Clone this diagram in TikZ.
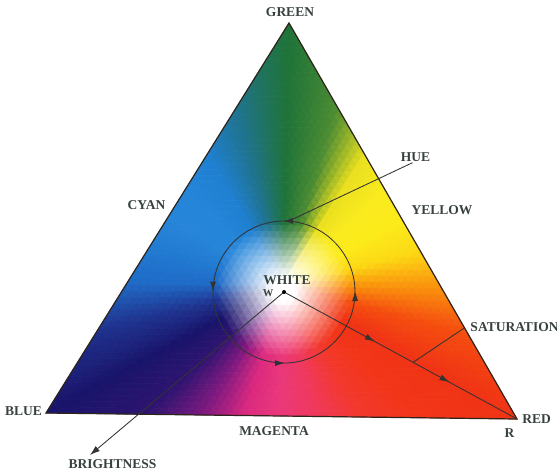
\documentclass[tikz,border=0pt]{standalone}
\usepackage{fontspec}
\setmainfont{Liberation Serif}
\usetikzlibrary{arrows.meta,decorations.markings,calc}
\definecolor{txt}{rgb}{0.22,0.26,0.24}
\definecolor{edgecol}{rgb}{0.18,0.14,0.10}
\definecolor{conn}{rgb}{0.2,0.2,0.2}
\def\palR{{0.94,0.96,0.98,0.99,0.99,0.98,0.92,0.30,0.12,0.12,0.12,0.14,0.15,0.13,0.12,0.12,0.10,0.18,0.50,0.86,0.92,0.94,0.95,0.95,0.94}}
\def\palG{{0.20,0.30,0.58,0.85,0.92,0.92,0.88,0.55,0.45,0.45,0.50,0.52,0.52,0.48,0.42,0.20,0.08,0.08,0.10,0.16,0.22,0.22,0.22,0.21,0.20}}
\def\palB{{0.08,0.06,0.05,0.08,0.10,0.12,0.12,0.20,0.22,0.55,0.82,0.85,0.85,0.82,0.78,0.56,0.42,0.44,0.50,0.50,0.48,0.36,0.18,0.10,0.08}}
\newcommand\qcol[2]{%
 \pgfmathsetmacro\qwb{(#1)/64}%
 \pgfmathsetmacro\qwr{(#2)/64}%
 \pgfmathsetmacro\qwg{1-\qwb-\qwr}%
 \pgfmathsetmacro\qh{mod(atan2(1.7320508*(\qwg-\qwb),2*\qwr-\qwg-\qwb)+360,360)/15}%
 \pgfmathtruncatemacro\qia{floor(\qh)}%
 \pgfmathtruncatemacro\qib{\qia+1}%
 \pgfmathsetmacro\qfr{\qh-\qia}%
 \pgfmathsetmacro\qdx{(5-3.796875*(#1)+3.5625*(#2))/100}%
 \pgfmathsetmacro\qdy{(-267+6.09375*(#1)+6.1875*(#2))/100}%
 \pgfmathsetmacro\qf{min(1,max(0,(100*sqrt(\qdx*\qdx+\qdy*\qdy)-12)/55))}%
 \pgfmathsetmacro\qcr{1-\qf*(1-(\palR[\qia]*(1-\qfr)+\palR[\qib]*\qfr))}%
 \pgfmathsetmacro\qcg{1-\qf*(1-(\palG[\qia]*(1-\qfr)+\palG[\qib]*\qfr))}%
 \pgfmathsetmacro\qcb{1-\qf*(1-(\palB[\qia]*(1-\qfr)+\palB[\qib]*\qfr))}%
 \definecolor{qc}{rgb}{\qcr,\qcg,\qcb}%
}
\tikzset{
 lbl/.style={font=\bfseries\fontsize{13.5}{14}\selectfont, text=txt, inner sep=0pt},
 cell/.style={fill=qc, draw=qc, line width=0.5pt, line join=round},
 connline/.style={draw=conn, line width=0.85pt},
 tipa/.style={-{Latex[length=10pt,width=6.5pt]}},
 midtip/.style={postaction={decorate}},
}
\newcommand\qtip{\arrow{Latex[length=10pt,width=6pt]}}
\begin{document}
\begin{tikzpicture}[x=1pt,y=-1pt]
\fill[white] (0,0) rectangle (557,475);
\useasboundingbox (0,0) rectangle (557,475);
% colour field
\begin{scope}[shift={(289,23)}, x={(-3.796875pt,-6.09375pt)}, y={(3.5625pt,-6.1875pt)}]
\foreach \i in {0,...,63}{
  \foreach \j in {0,...,\i}{
    \qcol{\i-\j+1/3}{\j+1/3}
    \filldraw[cell] (\i-\j,\j) -- (\i-\j+1,\j) -- (\i-\j,\j+1) -- cycle;
    \ifnum\j<\i
      \qcol{\i-\j-1/3}{\j+2/3}
      \filldraw[cell] (\i-\j,\j) -- (\i-\j-1,\j+1) -- (\i-\j,\j+1) -- cycle;
    \fi
  }
}
\end{scope}
% corners
\coordinate (G) at (289,23);
\coordinate (B) at (46,413);
\coordinate (R) at (517,419);
\coordinate (W) at (284,292);
\draw[edgecol, line width=1.2pt, line join=miter] (G) -- (B) -- (R) -- cycle;
% labels
\node[lbl] (green) at (290,12.5) {GREEN};
\node[lbl] (cyan) at (146.5,205) {CYAN};
\node[lbl] (yellow) at (442,210) {YELLOW};
\node[lbl] (hue) at (415.5,157.5) {HUE};
\node[lbl] (white) at (287,280) {WHITE};
\node[lbl, font=\bfseries\fontsize{10.5}{11}\selectfont] (wlbl) at (268,293) {W};
\node[lbl] (sat) at (514.5,327.5) {SATURATION};
\node[lbl] (blue) at (23.5,411) {BLUE};
\node[lbl] (red) at (536.5,419) {RED};
\node[lbl] (rlbl) at (509.5,433.5) {R};
\node[lbl] (magenta) at (274,431) {MAGENTA};
\node[lbl] (bright) at (112.5,464.5) {BRIGHTNESS};
% connectors
\coordinate (hueC) at (289,221);
\coordinate (satA) at ($(W)!0.554!(R)$);
\coordinate (brt) at (90,455);
\draw[connline] ($(hue.south)+(-3,0.5)$) -- (hueC);
\draw[connline] (satA) -- ($(sat.west)+(-6,0.5)$);
\draw[connline, tipa] (W) -- (brt);
\draw[connline, midtip, decoration={markings,
  mark=at position 0.39 with {\qtip},
  mark=at position 0.71 with {\qtip}}] (W) -- (R);
\draw[connline, midtip, decoration={markings,
  mark=at position 0.03 with {\qtip},
  mark=at position 0.28 with {\qtip},
  mark=at position 0.527 with {\qtip},
  mark=at position 0.78 with {\qtip}}]
  (W) ++(10:71) arc[start angle=10, end angle=-350, radius=71];
\fill[black] (W) circle[radius=2];
\end{tikzpicture}
\end{document}
